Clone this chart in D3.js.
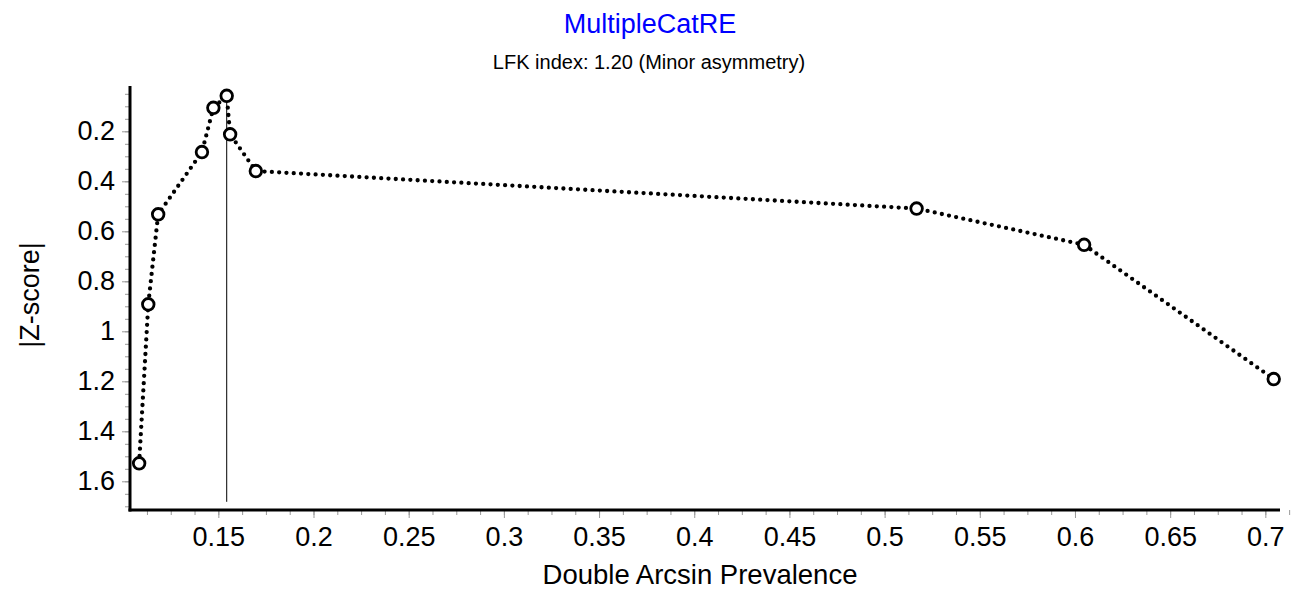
<!DOCTYPE html>
<html>
<head>
<meta charset="utf-8">
<script src="https://cdn.jsdelivr.net/npm/d3@7"></script>
<style>
  html, body { margin: 0; padding: 0; background: #fff; }
  svg { display: block; font-family: "Liberation Sans", Arial, sans-serif; }
</style>
</head>
<body>
<svg id="chart" width="1294" height="589"></svg>
<script>
// Study-level data for the Doi plot
const prevalence = [0.1084, 0.1132, 0.1184, 0.1414, 0.1474, 0.1544, 0.1562, 0.1697, 0.5168, 0.6048, 0.7044];
const zScore     = [1.528, 0.892, 0.532, 0.283, 0.106, 0.058, 0.212, 0.359, 0.509, 0.654, 1.191];

const xTicks = [0.15, 0.2, 0.25, 0.3, 0.35, 0.4, 0.45, 0.5, 0.55, 0.6, 0.65, 0.7];
const yTicks = [0.2, 0.4, 0.6, 0.8, 1, 1.2, 1.4, 1.6];
const xMinorTicks = d3.range(0, 49).map(i => +(0.1125 + i * 0.0125).toFixed(4));
const yMinorTicks = d3.range(0, 34).map(i => +(0.05 + i * 0.05).toFixed(2));

const chartTitle = "MultipleCatRE";
const chartSubtitle = "LFK index: 1.20 (Minor asymmetry)";
const xTitle = "Double Arcsin Prevalence";
const yTitle = "|Z-score|";

const svg = d3.select("#chart");
const plotLeft = 130, plotRight = 1280, plotTop = 86, plotBottom = 510;

const x = d3.scaleLinear().domain([0.1036, 0.7077]).range([plotLeft, plotRight]);
const y = d3.scaleLinear().domain([0.0188, 1.7148]).range([plotTop, plotBottom]);

const fmt = v => String(+v.toFixed(2));

// minor ticks
svg.append("g")
  .attr("transform", `translate(0,${plotBottom})`)
  .call(d3.axisBottom(x).tickValues(xMinorTicks).tickSize(5).tickFormat(""))
  .call(g => g.select(".domain").remove())
  .call(g => g.selectAll("line").attr("stroke", "#999").attr("stroke-width", 1));
svg.append("g")
  .attr("transform", `translate(${plotLeft},0)`)
  .call(d3.axisLeft(y).tickValues(yMinorTicks).tickSize(5).tickFormat(""))
  .call(g => g.select(".domain").remove())
  .call(g => g.selectAll("line").attr("stroke", "#999").attr("stroke-width", 1));

// major ticks and labels
svg.append("g")
  .attr("transform", `translate(0,${plotBottom})`)
  .call(d3.axisBottom(x).tickValues(xTicks).tickSize(8).tickPadding(9).tickFormat(fmt))
  .call(g => g.select(".domain").remove())
  .call(g => g.selectAll("line").attr("stroke", "#999").attr("stroke-width", 1))
  .call(g => g.selectAll("text").attr("fill", "#000")
      .style("font-size", "27px").style("font-family", "Liberation Sans, Arial, sans-serif"));
svg.append("g")
  .attr("transform", `translate(${plotLeft},0)`)
  .call(d3.axisLeft(y).tickValues(yTicks).tickSize(8).tickPadding(7).tickFormat(fmt))
  .call(g => g.select(".domain").remove())
  .call(g => g.selectAll("line").attr("stroke", "#999").attr("stroke-width", 1))
  .call(g => g.selectAll("text").attr("fill", "#000")
      .style("font-size", "27px").style("font-family", "Liberation Sans, Arial, sans-serif"));

// axis lines
svg.append("line").attr("x1", plotLeft).attr("x2", plotLeft).attr("y1", plotTop).attr("y2", plotBottom + 1.5)
  .attr("stroke", "#000").attr("stroke-width", 3);
svg.append("line").attr("x1", plotLeft - 1.5).attr("x2", plotRight).attr("y1", plotBottom).attr("y2", plotBottom)
  .attr("stroke", "#000").attr("stroke-width", 3);

// reference line through the study with the smallest |Z|
const minIdx = d3.minIndex(zScore);
svg.append("line")
  .attr("x1", x(prevalence[minIdx])).attr("x2", x(prevalence[minIdx]))
  .attr("y1", y(zScore[minIdx])).attr("y2", y(1.682))
  .attr("stroke", "#000").attr("stroke-width", 1);

// dotted connecting line
const pts = prevalence.map((p, i) => [p, zScore[i]]);
svg.append("path")
  .datum(pts)
  .attr("d", d3.line().x(d => x(d[0])).y(d => y(d[1])))
  .attr("fill", "none").attr("stroke", "#000").attr("stroke-width", 4.3)
  .attr("stroke-linecap", "round").attr("stroke-dasharray", "0 7.3");

// study markers
svg.append("g").selectAll("circle")
  .data(pts).join("circle")
  .attr("cx", d => x(d[0])).attr("cy", d => y(d[1])).attr("r", 5.8)
  .attr("fill", "#fff").attr("stroke", "#000").attr("stroke-width", 2.8);

// titles
svg.append("text").attr("x", 650).attr("y", 32.5).attr("text-anchor", "middle")
  .attr("fill", "#0000ff").style("font-size", "27px").text(chartTitle);
svg.append("text").attr("x", 649).attr("y", 69.3).attr("text-anchor", "middle")
  .attr("fill", "#000").style("font-size", "20px").text(chartSubtitle);
svg.append("text").attr("x", 700).attr("y", 584).attr("text-anchor", "middle")
  .attr("fill", "#000").style("font-size", "27.5px").text(xTitle);
svg.append("text").attr("transform", "translate(39,295) rotate(-90)").attr("text-anchor", "middle")
  .attr("fill", "#000").style("font-size", "27px").text(yTitle);
</script>
</body>
</html>
